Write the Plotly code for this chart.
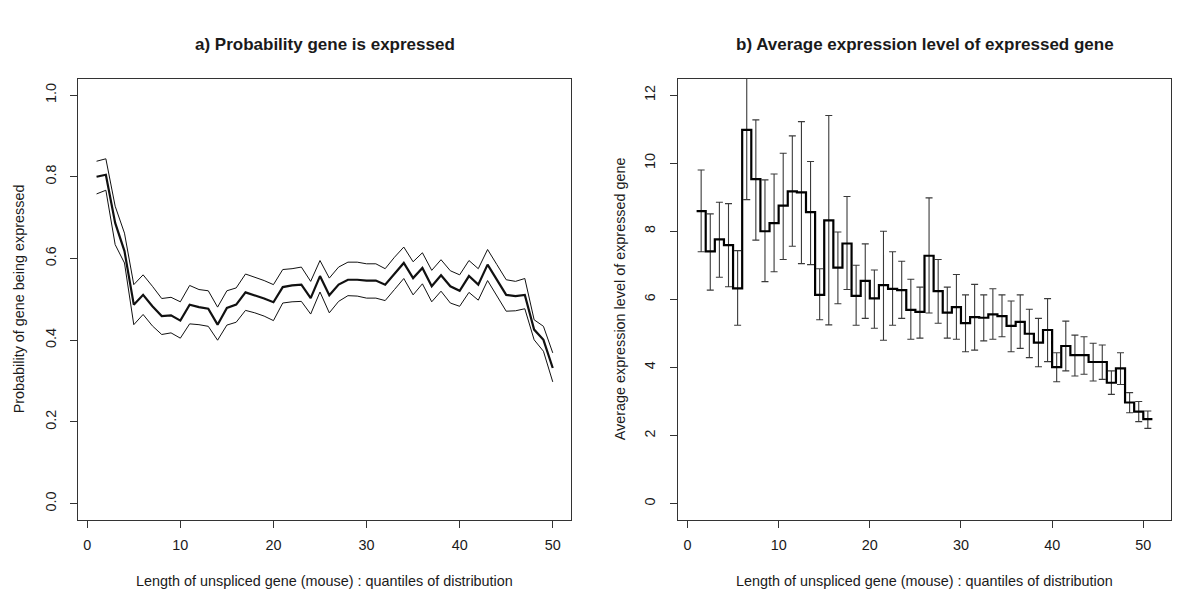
import plotly.graph_objects as go

# ---------------- data ----------------
quantiles = list(range(1, 51))

prob_mean = [0.800, 0.805, 0.687, 0.618, 0.487, 0.511, 0.483, 0.459, 0.461, 0.448,
             0.487, 0.481, 0.477, 0.438, 0.479, 0.487, 0.517, 0.510, 0.502, 0.493,
             0.530, 0.534, 0.536, 0.503, 0.557, 0.510, 0.536, 0.548, 0.548, 0.546,
             0.546, 0.536, 0.562, 0.589, 0.552, 0.577, 0.532, 0.559, 0.532, 0.521,
             0.557, 0.536, 0.585, 0.547, 0.511, 0.508, 0.511, 0.426, 0.401, 0.332]
prob_upper = [0.838, 0.844, 0.728, 0.662, 0.536, 0.560, 0.532, 0.502, 0.505, 0.494,
              0.534, 0.524, 0.521, 0.481, 0.521, 0.528, 0.562, 0.554, 0.546, 0.536,
              0.573, 0.575, 0.579, 0.544, 0.595, 0.552, 0.579, 0.591, 0.591, 0.587,
              0.587, 0.575, 0.603, 0.628, 0.592, 0.614, 0.571, 0.597, 0.570, 0.560,
              0.595, 0.575, 0.622, 0.585, 0.548, 0.544, 0.551, 0.450, 0.434, 0.369]
prob_lower = [0.758, 0.767, 0.634, 0.589, 0.438, 0.463, 0.435, 0.414, 0.418, 0.405,
              0.440, 0.438, 0.434, 0.400, 0.437, 0.444, 0.473, 0.467, 0.459, 0.448,
              0.491, 0.494, 0.495, 0.464, 0.518, 0.467, 0.495, 0.509, 0.508, 0.503,
              0.503, 0.497, 0.524, 0.551, 0.511, 0.538, 0.494, 0.520, 0.491, 0.483,
              0.517, 0.498, 0.546, 0.508, 0.471, 0.472, 0.477, 0.401, 0.373, 0.298]

expr_mean = [8.59, 7.41, 7.76, 7.59, 6.32, 10.98, 9.53, 8.00, 8.24, 8.75,
             9.17, 9.14, 8.56, 6.13, 8.32, 6.93, 7.64, 6.10, 6.54, 6.03,
             6.42, 6.31, 6.27, 5.69, 5.63, 7.28, 6.24, 5.61, 5.77, 5.30,
             5.48, 5.46, 5.56, 5.51, 5.22, 5.34, 4.99, 4.73, 5.10, 4.01,
             4.63, 4.36, 4.36, 4.16, 4.16, 3.55, 3.97, 2.97, 2.70, 2.48]
expr_upper = [9.80, 8.51, 8.85, 8.81, 7.43, 13.03, 11.27, 9.51, 9.68, 10.29,
              10.80, 11.22, 10.05, 6.90, 11.40, 7.98, 9.02, 7.00, 7.63, 6.86,
              8.00, 7.40, 7.12, 6.59, 6.36, 8.98, 7.17, 6.36, 6.73, 6.13,
              6.44, 6.13, 6.31, 6.13, 5.95, 6.13, 5.71, 5.44, 6.02, 4.43,
              5.36, 4.95, 4.90, 4.71, 4.66, 3.90, 4.43, 3.26, 3.00, 2.72]
expr_lower = [7.40, 6.27, 6.65, 6.37, 5.24, 8.93, 7.74, 6.52, 6.81, 7.17,
              7.56, 7.05, 7.02, 5.40, 5.25, 5.87, 6.29, 5.24, 5.44, 5.15,
              4.80, 5.24, 5.44, 4.83, 4.86, 5.60, 5.30, 4.86, 4.83, 4.46,
              4.51, 4.78, 4.83, 4.90, 4.46, 4.56, 4.29, 4.02, 4.17, 3.58,
              3.90, 3.75, 3.80, 3.60, 3.65, 3.21, 3.50, 2.67, 2.41, 2.21]

title_a = "a) Probability gene is expressed"
title_b = "b) Average expression level of expressed gene"
xlabel = "Length of unspliced gene (mouse) : quantiles of distribution"
ylabel_a = "Probability of gene being expressed"
ylabel_b = "Average expression level of expressed gene"

# ---------------- figure ----------------
FONT = "Liberation Sans, Arial, Helvetica, sans-serif"
INK = "#1a1a1a"

fig = go.Figure()

# panel a
for ys, w in ((prob_upper, 1.0), (prob_lower, 1.0), (prob_mean, 2.2)):
    fig.add_trace(go.Scatter(x=quantiles, y=ys, mode="lines",
                             line=dict(color="#111111", width=w),
                             xaxis="x", yaxis="y", showlegend=False, hoverinfo="skip"))

# panel b: error bars at bin centres
centres = [q + 0.5 for q in quantiles]
fig.add_trace(go.Scatter(
    x=centres, y=expr_mean, mode="markers",
    marker=dict(size=1, color="rgba(0,0,0,0)"),
    error_y=dict(type="data", symmetric=False,
                 array=[u - m for u, m in zip(expr_upper, expr_mean)],
                 arrayminus=[m - l for m, l in zip(expr_mean, expr_lower)],
                 color="#3a3a3a", thickness=1.1, width=3.5),
    xaxis="x2", yaxis="y2", showlegend=False, hoverinfo="skip"))

# panel b: step line over bins [q, q+1]
step_x = quantiles + [quantiles[-1] + 1]
step_y = expr_mean + [expr_mean[-1]]
fig.add_trace(go.Scatter(x=step_x, y=step_y, mode="lines",
                         line=dict(color="#000000", width=2.2, shape="hv"),
                         xaxis="x2", yaxis="y2", showlegend=False, hoverinfo="skip"))

axis_common = dict(showgrid=False, zeroline=False, showline=True, mirror=True,
                   linecolor="#333333", linewidth=1, ticks="outside", ticklen=7,
                   tickcolor="#333333", tickwidth=1,
                   tickfont=dict(family=FONT, size=14.4, color=INK))

ydom = [1 - 512 / 600, 1 - 70.7 / 600]

fig.update_layout(
    width=1200, height=600,
    margin=dict(l=0, r=0, t=0, b=0),
    paper_bgcolor="white", plot_bgcolor="white",
    xaxis=dict(domain=[70.3 / 1200, 563 / 1200], range=[-0.96, 51.96],
               tickvals=[0, 10, 20, 30, 40, 50], ticklabelstandoff=5, **axis_common),
    yaxis=dict(domain=ydom, range=[-0.04, 1.04],
               tickvals=[0, 0.2, 0.4, 0.6, 0.8, 1.0], tickformat=".1f",
               tickangle=-90, ticklabelstandoff=9, **axis_common),
    xaxis2=dict(domain=[670 / 1200, 1163 / 1200], range=[-1.04, 53.04],
                tickvals=[0, 10, 20, 30, 40, 50], anchor="y2", ticklabelstandoff=5,
                **axis_common),
    yaxis2=dict(domain=ydom, range=[-0.48, 12.48],
                tickvals=[0, 2, 4, 6, 8, 10, 12], tickangle=-90, ticklabelstandoff=9,
                anchor="x2", **axis_common),
)

ann = []
for xc, t in (((70.3 + 563) / 2400, title_a), ((670 + 1163) / 2400, title_b)):
    ann.append(dict(x=xc, y=1 - 37 / 600, xref="paper", yref="paper", text="<b>%s</b>" % t,
                    showarrow=False, xanchor="center", yanchor="middle",
                    font=dict(family=FONT, size=17, color=INK)))
    ann.append(dict(x=xc, y=1 - 573 / 600, xref="paper", yref="paper", text=xlabel,
                    showarrow=False, xanchor="center", yanchor="middle",
                    font=dict(family=FONT, size=14.4, color=INK)))
for xc, t in ((11 / 1200, ylabel_a), (612 / 1200, ylabel_b)):
    ann.append(dict(x=xc, y=(ydom[0] + ydom[1]) / 2, xref="paper", yref="paper", text=t,
                    textangle=-90, showarrow=False, xanchor="center", yanchor="middle",
                    font=dict(family=FONT, size=14.4, color=INK)))
fig.update_layout(annotations=ann)

fig.write_html("out.html")
